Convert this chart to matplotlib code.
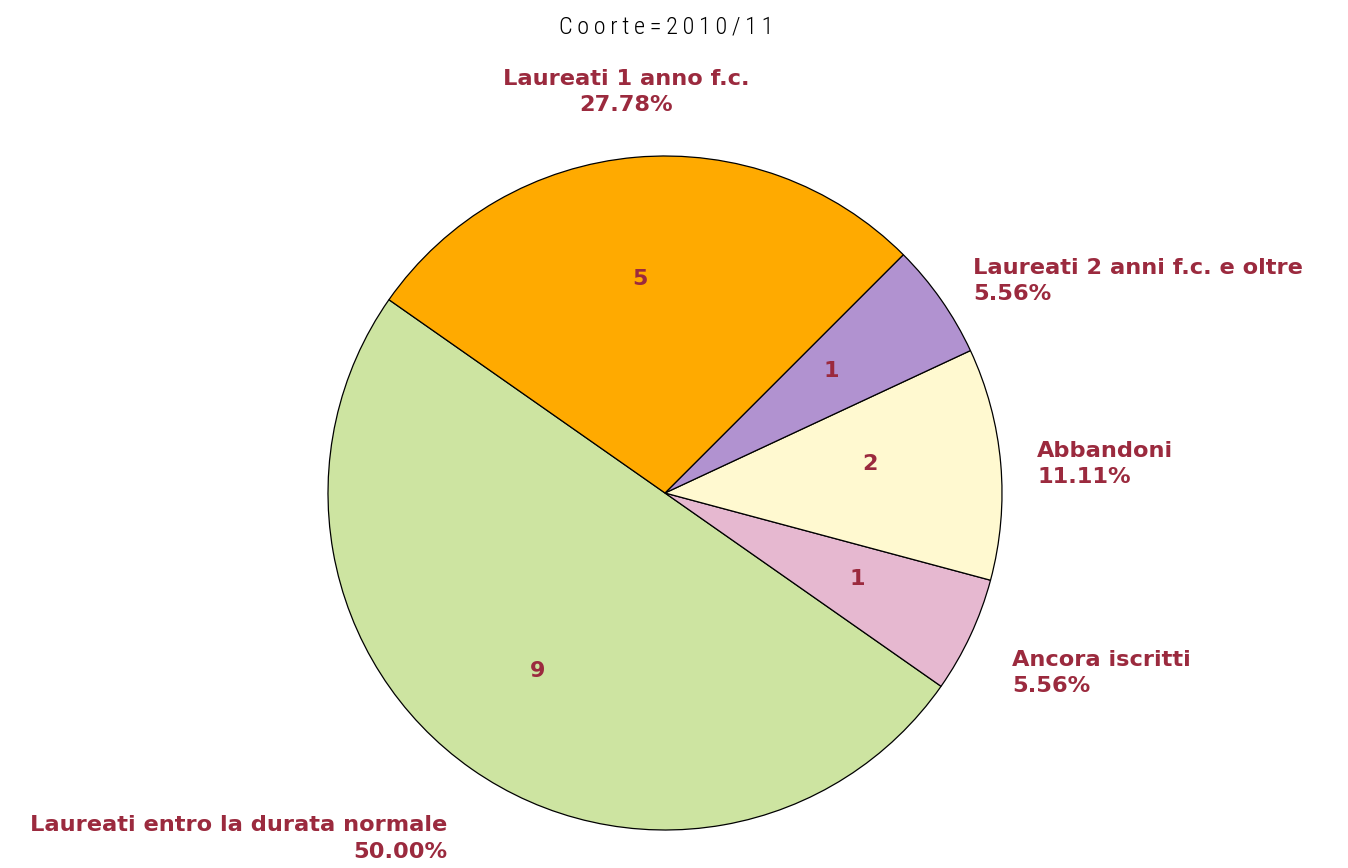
import numpy as np
import matplotlib
matplotlib.use("Agg")
import matplotlib.pyplot as plt

categories = ["Laureati entro la durata normale", "Ancora iscritti", "Abbandoni",
              "Laureati 2 anni f.c. e oltre", "Laureati 1 anno f.c."]
counts = [9, 1, 2, 1, 5]
colors = ["#CDE4A1", "#E6B8D0", "#FFF9D0", "#B192D0", "#FFAA00"]
title = "Coorte=2010/11"
text_color = "#9B2A3E"

W, H = 1348, 868
cx, cy, R = 665, 493, 337
fig = plt.figure(figsize=(W / 100, H / 100), dpi=100)
ax = fig.add_axes([0, 0, 1, 1])

total = sum(counts)
wedges, _ = ax.pie(counts, colors=colors, startangle=145, counterclock=True, radius=1,
                   wedgeprops=dict(edgecolor="black", linewidth=0.9))
ax.set_xlim(-cx / R, (W - cx) / R)
ax.set_ylim(-(H - cy) / R, cy / R)
ax.set_aspect("equal")
ax.axis("off")

# small nudges in pixels (dx right, dy down), mimicking the original placement
label_nudge = [(5, 28), (-4, 16), (-14, 5), (-9, 10), (-5, -15)]
count_nudge = [(-8, 7), (3, -2), (-3, -11), (-5, -2), (-7, -6)]

start = 145.0
for i, (n, lab) in enumerate(zip(counts, categories)):
    span = 360.0 * n / total
    mid = np.deg2rad(start + span / 2)
    start += span
    cdx, cdy = count_nudge[i]
    ax.text(0.62 * np.cos(mid) + cdx / R, 0.62 * np.sin(mid) - cdy / R, str(n),
            ha="center", va="center",
            fontsize=16, fontweight="bold", color=text_color, family="DejaVu Sans")
    dx, dy = label_nudge[i]
    x = 1.15 * np.cos(mid) + dx / R
    y = 1.15 * np.sin(mid) - dy / R
    if abs(np.cos(mid)) < 0.3:
        ha = "center"
    elif np.cos(mid) > 0:
        ha = "left"
    else:
        ha = "right"
    ax.text(x, y, f"{lab}\n{100 * n / total:.2f}%", ha=ha, va="center",
            multialignment=ha,
            fontsize=16.2, fontweight="bold", color=text_color, family="DejaVu Sans",
            linespacing=1.4)

fig.text(666 / W, 1 - 27 / H, "\u2009".join(title), ha="center", va="center",
         fontsize=17.5, family=["Roboto Condensed", "Liberation Sans Narrow",
                                "DejaVu Sans Condensed", "DejaVu Sans"],
         color="black", fontweight="light")

fig.savefig("out.png", dpi=100)
